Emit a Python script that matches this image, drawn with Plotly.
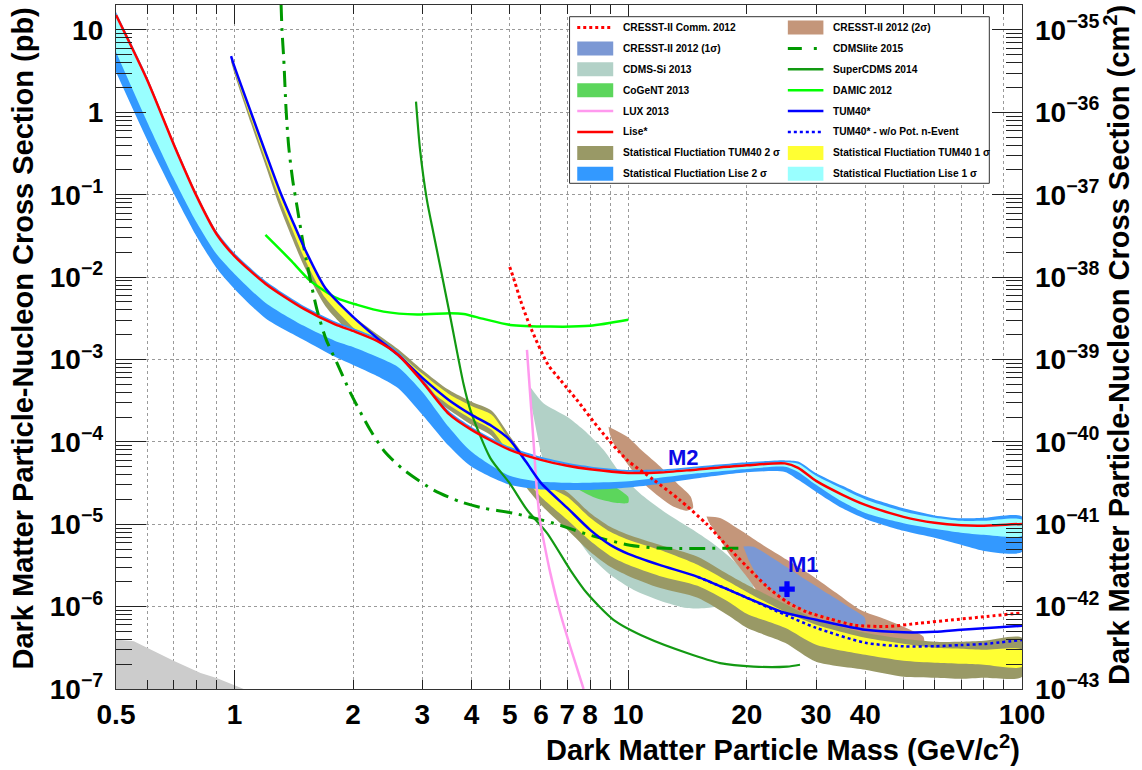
import numpy as np
import plotly.graph_objects as go

FONT = "Liberation Sans, Arial, Helvetica, sans-serif"

# ---------------- data: WIMP mass in GeV/c^2, cross section in pb ----------------
# Lise* limit and its statistical-fluctuation bands
lise_mass = [0.5, 0.6, 0.7, 0.8, 0.9, 1.0, 1.2, 1.5, 1.8, 2.0, 2.3, 2.6, 3.0, 3.5, 4.0, 5, 6, 7, 8,
             10, 12, 15, 20, 25, 27, 30, 35, 40, 50, 60, 70, 80, 100]
lise_limit = [15.2, 2.47, 0.414, 0.0975, 0.0334, 0.018, 0.00826, 0.00411, 0.00267, 0.00222, 0.00168,
              0.00114, 5.35e-4, 2.19e-4, 1.40e-4, 8.0e-5, 6.05e-5, 5.12e-5, 4.64e-5, 4.2e-5, 4.24e-5,
              4.63e-5, 5.19e-5, 5.48e-5, 4.83e-5, 3.36e-5, 2.28e-5, 1.72e-5, 1.23e-5, 1.04e-5, 9.7e-6,
              9.6e-6, 1.01e-5]
lise_2s_up = [16.5, 2.69, 0.45, 0.106, 0.0363, 0.0196, 0.00898, 0.00447, 0.0029, 0.00241, 0.00183,
              0.00124, 5.82e-4, 2.38e-4, 1.52e-4, 8.7e-5, 6.58e-5, 5.57e-5, 5.04e-5, 4.57e-5, 4.61e-5,
              5.03e-5, 5.64e-5, 5.96e-5, 5.77e-5, 4.17e-5, 2.93e-5, 2.18e-5, 1.56e-5, 1.28e-5, 1.18e-5,
              1.20e-5, 1.24e-5]
lise_1s_up = [15.6, 2.54, 0.426, 0.1004, 0.0344, 0.0186, 0.0085, 0.00423, 0.00275, 0.00229, 0.00173,
              0.00117, 5.51e-4, 2.26e-4, 1.44e-4, 8.24e-5, 6.23e-5, 5.27e-5, 4.78e-5, 4.33e-5, 4.37e-5,
              4.77e-5, 5.35e-5, 5.64e-5, 5.41e-5, 3.87e-5, 2.69e-5, 2.0e-5, 1.43e-5, 1.20e-5, 1.10e-5,
              1.10e-5, 1.13e-5]
lise_1s_low = [5.41, 0.765, 0.160, 0.0468, 0.0191, 0.01094, 0.00486, 0.00256, 0.00168, 0.00142, 0.00108,
               8.13e-4, 4.04e-4, 1.52e-4, 7.57e-5, 3.87e-5, 3.27e-5, 3.18e-5, 3.19e-5, 3.32e-5, 3.66e-5,
               4.15e-5, 4.70e-5, 4.98e-5, 4.32e-5, 3.01e-5, 1.87e-5, 1.37e-5, 1.03e-5, 8.79e-6, 7.87e-6,
               7.43e-6, 7.23e-6]
lise_2s_low = [3.09, 0.462, 0.105, 0.0316, 0.01294, 0.00719, 0.00315, 0.00173, 0.00108, 8.6e-4, 6.32e-4,
               4.52e-4, 2.13e-4, 8.94e-5, 4.98e-5, 3.01e-5, 2.65e-5, 2.61e-5, 2.61e-5, 2.80e-5, 3.09e-5,
               3.61e-5, 4.27e-5, 4.32e-5, 3.46e-5, 2.47e-5, 1.56e-5, 1.16e-5, 8.32e-6, 6.84e-6, 5.62e-6,
               4.75e-6, 4.62e-6]

# TUM40* limit and its statistical-fluctuation bands
tum_mass = [0.98, 1.0, 1.1, 1.2, 1.3, 1.4, 1.5, 1.7, 2.0, 2.3, 2.6, 3.0, 3.5, 4.0, 4.5, 5, 5.5, 6, 7, 8,
            9, 10, 12, 15, 18, 20, 25, 30, 40, 50, 60, 70, 80, 100]
tum_limit = [4.83, 3.56, 1.01, 0.3215, 0.1144, 0.0494, 0.02325, 0.00739, 0.00329, 0.00183, 0.001137,
             5.98e-4, 3.23e-4, 2.13e-4, 1.56e-4, 1.06e-4, 5.72e-5, 3.18e-5, 1.58e-5, 8.55e-6, 5.62e-6,
             4.37e-6, 3.21e-6, 2.30e-6, 1.60e-6, 1.28e-6, 8.41e-7, 6.92e-7, 5.23e-7, 4.88e-7, 4.94e-7,
             5.23e-7, 5.45e-7, 5.85e-7]
tum_2s_up = [4.83, 3.66, 1.04, 0.331, 0.1176, 0.0508, 0.0239, 0.0076, 0.00338, 0.002045, 0.001345,
             7.48e-4, 4.28e-4, 3.06e-4, 2.38e-4, 1.18e-4, 6.39e-5, 3.66e-5, 2.47e-5, 1.37e-5, 9.3e-6,
             7.43e-6, 5.62e-6, 4.02e-6, 2.43e-6, 1.84e-6, 1.08e-6, 6.92e-7, 4.81e-7, 4.06e-7, 3.74e-7,
             3.74e-7, 3.85e-7, 4.18e-7]
tum_1s_up = [4.7, 3.56, 0.983, 0.3127, 0.1112, 0.0481, 0.0226, 0.00719, 0.0032, 0.00188, 0.0012,
             6.69e-4, 3.82e-4, 2.73e-4, 2.13e-4, 1.03e-4, 5.56e-5, 3.18e-5, 2.15e-5, 1.20e-5, 8.09e-6,
             6.47e-6, 4.89e-6, 3.22e-6, 2.0e-6, 1.51e-6, 8.65e-7, 6.01e-7, 4.18e-7, 3.54e-7, 3.16e-7,
             3.08e-7, 2.99e-7, 2.99e-7]
tum_1s_low = [4.4, 3.18, 0.855, 0.264, 0.0915, 0.0385, 0.0176, 0.0056, 0.00245, 0.00138, 8.6e-4,
              4.92e-4, 2.81e-4, 1.90e-4, 1.40e-4, 6.95e-5, 3.56e-5, 2.15e-5, 1.13e-5, 6.29e-6, 4.13e-6,
              3.22e-6, 2.36e-6, 1.79e-6, 1.14e-6, 8.18e-7, 5.53e-7, 3.44e-7, 2.6e-7, 2.2e-7, 2.08e-7,
              2.02e-7, 1.97e-7, 1.86e-7]
tum_2s_low = [4.1, 2.92, 0.743, 0.224, 0.0731, 0.0299, 0.0137, 0.00447, 0.00195, 0.00117, 7.27e-4,
              4.28e-4, 2.45e-4, 1.61e-4, 1.18e-4, 5.72e-5, 2.84e-5, 1.72e-5, 8.55e-6, 4.62e-6, 3.04e-6,
              2.36e-6, 1.69e-6, 1.28e-6, 7.73e-7, 5.53e-7, 3.64e-7, 2.14e-7, 1.71e-7, 1.41e-7, 1.37e-7,
              1.33e-7, 1.37e-7, 1.41e-7]

# TUM40* without the potential neutron event
tum_won_mass = [15, 18, 20, 25, 30, 40, 50, 60, 70, 80, 100]
tum_won_limit = [2.30e-6, 1.60e-6, 1.28e-6, 7.96e-7, 5.53e-7, 3.64e-7, 3.30e-7, 3.31e-7, 3.42e-7,
                 3.52e-7, 3.94e-7]

# other experiments
cresst_comm_mass = [5.0, 5.16, 5.32, 5.64, 6.26, 6.72, 7.4, 8.48, 9.92, 11.6, 13.5, 15.8, 17.8, 20.0,
                    22.5, 25.3, 28.4, 32.5, 37.3, 45.3, 55.1, 66.9, 81.3, 100]
cresst_comm_limit = [0.0133, 0.0085, 0.00529, 0.00249, 8.6e-4, 5.65e-4, 3.24e-4, 1.40e-4, 6.05e-5,
                     3.46e-5, 1.98e-5, 1.01e-5, 5.47e-6, 3.06e-6, 1.75e-6, 1.14e-6, 8.63e-7, 7.1e-7,
                     6.0e-7, 5.73e-7, 6.3e-7, 6.92e-7, 7.59e-7, 8.4e-7]

cdmslite_mass = [1.313, 1.32, 1.334, 1.352, 1.373, 1.405, 1.442, 1.499, 1.558, 1.62, 1.71, 1.82, 1.97,
                 2.21, 2.42, 2.69, 3.2, 3.74, 4.29, 5.11, 6.46, 8.0, 10.1, 12.05, 19.2]
cdmslite_limit = [20.1, 10.0, 4.32, 1.07, 0.38, 0.151, 0.0712, 0.0233, 0.00925, 0.0040, 0.00173, 9.1e-4,
                  3.94e-4, 1.40e-4, 7.36e-5, 4.57e-5, 2.61e-5, 1.88e-5, 1.57e-5, 1.36e-5, 1.03e-5,
                  7.36e-6, 5.56e-6, 5.13e-6, 5.13e-6]

supercdms_mass = [2.89, 2.96, 3.08, 3.2, 3.33, 3.53, 3.82, 3.97, 4.46, 5.01, 5.53, 6.22, 7.12, 7.85,
                  9.17, 11.15, 14.1, 17.1, 20.8, 25.3, 27.3]
supercdms_limit = [1.35, 0.35, 0.0865, 0.0344, 0.0134, 0.00332, 4.92e-4, 2.45e-4, 6.4e-5, 3.09e-5,
                   1.50e-5, 7.8e-6, 2.8e-6, 1.46e-6, 6.92e-7, 4.18e-7, 2.73e-7, 2.06e-7, 1.87e-7,
                   1.87e-7, 1.97e-7]

damic_mass = [1.198, 1.386, 1.558, 1.821, 2.05, 2.39, 2.91, 3.53, 3.82, 4.29, 5.01, 6.34, 8.0, 10.0]
damic_limit = [0.0325, 0.0162, 0.009, 0.00555, 0.0046, 0.00381, 0.00352, 0.00365, 0.00357, 0.00311,
               0.00263, 0.00251, 0.00256, 0.00303]

lux_mass = [5.53, 5.64, 5.75, 5.86, 5.98, 6.09, 6.34, 6.72, 7.12, 7.7]
lux_limit = [1.31e-3, 3.55e-4, 9.64e-5, 2.61e-5, 1.03e-5, 6.46e-6, 2.55e-6, 8.3e-7, 3.28e-7, 1.0e-7]

# signal regions (closed contours)
cdmssi_mass = [5.64, 6.09, 6.98, 7.7, 8.65, 9.54, 10.7, 12.5, 14.6, 16.8, 19.2, 20.8, 20.4, 18.5, 15.8,
               14.1, 12.05, 10.3, 9.0, 8.0, 7.33, 6.72, 6.26, 5.98, 5.77, 5.64]
cdmssi_sigma = [4.65e-4, 2.95e-4, 2.03e-4, 1.40e-4, 8.0e-5, 4.17e-5, 2.38e-5, 1.36e-5, 8.55e-6, 5.36e-6,
                3.06e-6, 1.75e-6, 1.32e-6, 1.10e-6, 9.6e-7, 9.6e-7, 1.18e-6, 1.6e-6, 2.43e-6, 4.14e-6,
                7.45e-6, 1.50e-5, 3.46e-5, 8.0e-5, 1.85e-4, 3.24e-4]

cogent_mass = [6.26, 6.72, 7.33, 8.24, 9.27, 10.0, 10.0, 9.27, 8.24, 7.33, 6.72, 6.26]
cogent_sigma = [4.57e-5, 5.26e-5, 4.97e-5, 3.97e-5, 2.84e-5, 2.15e-5, 1.82e-5, 1.82e-5, 2.09e-5,
                2.77e-5, 3.36e-5, 4.09e-5]

cresst_2s_m2_mass = [8.91, 9.92, 10.9, 12.05, 13.3, 14.4, 14.6, 14.1, 13.0, 11.8, 10.7, 9.92, 9.17, 8.96]
cresst_2s_m2_sigma = [1.53e-4, 1.16e-4, 7.62e-5, 5.01e-5, 3.15e-5, 2.17e-5, 1.57e-5, 1.46e-5, 1.64e-5,
                      2.28e-5, 3.46e-5, 5.51e-5, 9.64e-5, 1.28e-4]
cresst_2s_m1_mass = [15.8, 17.1, 19.2, 21.6, 25.3, 29.5, 33.8, 38.8, 45.3, 52.0, 56.2, 56.2, 41.1, 33.8,
                     28.4, 25.3, 23.4, 21.6, 20.0, 18.1, 16.8, 16.0]
cresst_2s_m1_sigma = [1.24e-5, 1.19e-5, 8.55e-6, 5.9e-6, 3.7e-6, 2.32e-6, 1.46e-6, 9.15e-7, 6.92e-7,
                      5.23e-7, 4.3e-7, 3.54e-7, 3.44e-7, 3.96e-7, 5.23e-7, 6.92e-7, 9.15e-7, 1.39e-6,
                      2.3e-6, 4.25e-6, 7.43e-6, 1.07e-5]
cresst_1s_mass = [19.6, 20.8, 23.4, 27.3, 32.5, 36.6, 39.9, 39.9, 36.6, 32.5, 27.3, 24.3, 21.6, 20.2]
cresst_1s_sigma = [5.36e-6, 5.32e-6, 3.8e-6, 2.36e-6, 1.39e-6, 9.67e-7, 7.3e-7, 6.0e-7, 6.35e-7, 7.3e-7,
                   9.67e-7, 1.35e-6, 2.11e-6, 3.7e-6]

# excluded area in the lower-left corner
excl_mass = [0.5, 0.555, 0.7, 0.82, 0.9, 1.055, 0.5]
excl_sigma = [4.0e-7, 3.8e-7, 2.2e-7, 1.56e-7, 1.36e-7, 1.0e-7, 1.0e-7]

# CRESST-II best-fit point M1 and the label positions
m1_mass, m1_sigma = 25.3, 1.63e-6
m1_label_mass, m1_label_sigma = 27.8, 3.21e-6
m2_label_mass, m2_label_sigma = 13.8, 6.4e-5

# axis ticks
x_ticks = [0.5, 1, 2, 3, 4, 5, 6, 7, 8, 10, 20, 30, 40, 100]
x_ticklabels = ["0.5", "1", "2", "3", "4", "5", "6", "7", "8", "10", "20", "30", "40", "100"]
x_minor = [0.6, 0.7, 0.8, 0.9, 9, 50, 60, 70, 80, 90]
x_decades = [1, 10, 100]
y_exponents = [-7, -6, -5, -4, -3, -2, -1, 0, 1]
y2_exponents = [-43, -42, -41, -40, -39, -38, -37, -36, -35]

# ---------------- colours ----------------
C_RED = "#ff0000"
C_BLUE = "#0000ff"
C_LISE1 = "#99ffff"
C_LISE2 = "#3399ff"
C_TUM1 = "#ffff33"
C_TUM2 = "#999966"
C_CDMSSI = "#b2d1c7"
C_COGENT = "#5cd65c"
C_CRESST2 = "#c4967a"
C_CRESST1 = "#7b98d4"
C_CDMSLITE = "#009900"
C_SUPERCDMS = "#129912"
C_DAMIC = "#00ff00"
C_LUX = "#ff99ee"
C_EXCL = "#cccccc"
GRID = "#9a9a9a"

DOT = "3px,3px"
DASHDOT = "16px,7px,3px,7px"

# ---------------- figure ----------------
W, H = 1142, 770
FR_L, FR_R, FR_T, FR_B = 115.5, 1022.0, 5.0, 689.0


def xp(px):
    return (px - FR_L) / (FR_R - FR_L)


def yp(py):
    return (FR_B - py) / (FR_B - FR_T)


fig = go.Figure()


def add_region(x, y, color, shape="spline"):
    fig.add_trace(go.Scatter(x=x, y=y, mode="lines", fill="toself", fillcolor=color,
                             line=dict(width=0, color=color, shape=shape, smoothing=0.7),
                             hoverinfo="skip", showlegend=False))


def add_band(x, hi, lo, color):
    add_region(list(x) + list(x)[::-1], list(hi) + list(lo)[::-1], color)


def add_curve(x, y, color, width, dash="solid"):
    fig.add_trace(go.Scatter(x=x, y=y, mode="lines",
                             line=dict(color=color, width=width, dash=dash, shape="spline",
                                       smoothing=0.7),
                             hoverinfo="skip", showlegend=False))


add_region(excl_mass, excl_sigma, C_EXCL, shape="linear")
add_region(cdmssi_mass, cdmssi_sigma, C_CDMSSI)
add_region(cresst_2s_m2_mass, cresst_2s_m2_sigma, C_CRESST2)
add_region(cresst_2s_m1_mass, cresst_2s_m1_sigma, C_CRESST2)
add_region(cresst_1s_mass, cresst_1s_sigma, C_CRESST1)
add_region(cogent_mass, cogent_sigma, C_COGENT)
add_band(tum_mass, tum_2s_up, tum_2s_low, C_TUM2)
add_band(tum_mass, tum_1s_up, tum_1s_low, C_TUM1)
add_band(lise_mass, lise_2s_up, lise_2s_low, C_LISE2)
add_band(lise_mass, lise_1s_up, lise_1s_low, C_LISE1)

add_curve(damic_mass, damic_limit, C_DAMIC, 2.5)
add_curve(supercdms_mass, supercdms_limit, C_SUPERCDMS, 2.2)
add_curve(cdmslite_mass, cdmslite_limit, C_CDMSLITE, 3, DASHDOT)
add_curve(lux_mass, lux_limit, C_LUX, 2.5)
add_curve(cresst_comm_mass, cresst_comm_limit, C_RED, 3, DOT)
add_curve(tum_won_mass, tum_won_limit, C_BLUE, 2.5, DOT)
add_curve(tum_mass, tum_limit, C_BLUE, 2.5)
add_curve(lise_mass, lise_limit, C_RED, 2.5)

fig.add_trace(go.Scatter(x=[m1_mass], y=[m1_sigma], mode="markers",
                         marker=dict(symbol="cross", size=13, color=C_BLUE, line=dict(width=0)),
                         hoverinfo="skip", showlegend=False))

# empty traces that attach the decade-tick axis and the cm^2 axis
fig.add_trace(go.Scatter(x=[], y=[], xaxis="x2", yaxis="y", showlegend=False, hoverinfo="skip"))
fig.add_trace(go.Scatter(x=[], y=[], xaxis="x", yaxis="y2", showlegend=False, hoverinfo="skip"))


def pow_label(e):
    if e == 0:
        return "1"
    if e == 1:
        return "10"
    return "10<sup>%s</sup>" % str(e).replace("-", "\u2212")


y_ticks = [10.0 ** e for e in y_exponents]
y_ticklabels = [pow_label(e) for e in y_exponents]
y_minor = [m * 10.0 ** e for e in y_exponents[:-1] for m in range(2, 10)]
y2_ticks = [10.0 ** e for e in y2_exponents]
y2_ticklabels = [pow_label(e) for e in y2_exponents]

x_range = [np.log10(0.5), 2.0]
y_top = np.log10(20.1)
y_range = [-7.0, y_top]
y2_range = [-43.0, y_top - 36.0]

tick_font = dict(family=FONT, size=28, color="black", weight="bold")
frame = dict(showline=True, linecolor="#333333", linewidth=1.3, zeroline=False)

fig.update_layout(
    width=W, height=H,
    margin=dict(l=FR_L, r=W - FR_R, t=FR_T, b=H - FR_B, autoexpand=False),
    paper_bgcolor="white", plot_bgcolor="white", showlegend=False,
    font=dict(family=FONT, color="black"),
    xaxis=dict(type="log", range=x_range, tickmode="array", tickvals=x_ticks, ticktext=x_ticklabels,
               ticks="inside", ticklen=9, tickwidth=1, tickcolor="#222222", mirror="ticks",
               showgrid=True, gridcolor=GRID, griddash="dot", gridwidth=1,
               tickfont=tick_font, ticklabelstandoff=0,
               minor=dict(tickmode="array", tickvals=x_minor, ticks="inside", ticklen=9,
                          tickcolor="#222222", showgrid=True, gridcolor=GRID, griddash="dot",
                          gridwidth=1),
               **frame),
    xaxis2=dict(type="log", range=x_range, overlaying="x", anchor="y", side="bottom",
                tickmode="array", tickvals=x_decades, ticks="inside", ticklen=19, tickwidth=1,
                tickcolor="#222222", showticklabels=False, showgrid=False, mirror="ticks",
                showline=False, zeroline=False),
    yaxis=dict(type="log", range=y_range, tickmode="array", tickvals=y_ticks, ticktext=y_ticklabels,
               ticks="inside", ticklen=30, tickwidth=1, tickcolor="#222222", mirror="ticks",
               showgrid=True, gridcolor=GRID, griddash="dot", gridwidth=1,
               tickfont=tick_font, ticklabelstandoff=6,
               minor=dict(tickmode="array", tickvals=y_minor, ticks="inside", ticklen=16,
                          tickcolor="#222222", showgrid=False),
               **frame),
    yaxis2=dict(type="log", range=y2_range, overlaying="y", anchor="x", side="right",
                tickmode="array", tickvals=y2_ticks, ticktext=y2_ticklabels, ticks="",
                showgrid=False, showline=False, zeroline=False, tickfont=tick_font,
                ticklabelstandoff=12),
)

annotations = []
shapes = []

# axis titles
title_font = dict(family=FONT, size=29, color="black", weight="bold")
annotations.append(dict(text="Dark Matter Particle Mass (GeV/c<sup>2</sup>)", xref="paper", yref="paper",
                        x=1.0, y=yp(748), xanchor="right", yanchor="middle", showarrow=False,
                        font=title_font))
annotations.append(dict(text="Dark Matter Particle-Nucleon Cross Section (pb)", xref="paper",
                        yref="paper", x=xp(22), y=yp(6), xanchor="center", yanchor="top",
                        textangle=-90, showarrow=False, font=title_font))
annotations.append(dict(text="Dark Matter Particle-Nucleon Cross Section (cm<sup>2</sup>)",
                        xref="paper", yref="paper", x=xp(1117), y=yp(3), xanchor="center",
                        yanchor="top", textangle=-90, showarrow=False, font=title_font))

# M1 / M2 labels
m_font = dict(family=FONT, size=22, color="#0a0ae6", weight="bold")
annotations.append(dict(text="M2", x=np.log10(m2_label_mass), y=np.log10(m2_label_sigma), xref="x",
                        yref="y", showarrow=False, font=m_font))
annotations.append(dict(text="M1", x=np.log10(m1_label_mass), y=np.log10(m1_label_sigma), xref="x",
                        yref="y", showarrow=False, font=m_font))

# legend box
shapes.append(dict(type="rect", xref="paper", yref="paper", x0=xp(569.3), x1=xp(989.3),
                   y0=yp(183.3), y1=yp(16.7), line=dict(color="#333333", width=1),
                   fillcolor="white", layer="above"))

legend_left = [
    ("CRESST-II Comm. 2012", "line", dict(color=C_RED, width=3, dash=DOT)),
    ("CRESST-II 2012 (1\u03c3)", "box", C_CRESST1),
    ("CDMS-Si 2013", "box", C_CDMSSI),
    ("CoGeNT 2013", "box", C_COGENT),
    ("LUX 2013", "line", dict(color=C_LUX, width=2.5)),
    ("Lise*", "line", dict(color=C_RED, width=2.5)),
    ("Statistical Fluctiation TUM40 2 \u03c3", "box", C_TUM2),
    ("Statistical Fluctiation Lise 2 \u03c3", "box", C_LISE2),
]
legend_right = [
    ("CRESST-II 2012 (2\u03c3)", "box", C_CRESST2),
    ("CDMSlite 2015", "line", dict(color=C_CDMSLITE, width=3, dash="14px,12px,3px,8px")),
    ("SuperCDMS 2014", "line", dict(color=C_SUPERCDMS, width=2.5)),
    ("DAMIC 2012", "line", dict(color=C_DAMIC, width=2.5)),
    ("TUM40*", "line", dict(color=C_BLUE, width=2.5)),
    ("TUM40* - w/o Pot. n-Event", "line", dict(color=C_BLUE, width=2.5, dash=DOT)),
    ("Statistical Fluctiation TUM40 1 \u03c3", "box", C_TUM1),
    ("Statistical Fluctiation Lise 1 \u03c3", "box", C_LISE1),
]

leg_font = dict(family=FONT, size=10.2, color="black", weight="bold")
for col, (sx0, sx1, tx) in zip([legend_left, legend_right],
                               [(577.0, 613.0, 620.5), (787.7, 823.3, 831.0)]):
    for i, (label, kind, style) in enumerate(col):
        ry = 27.5 + 20.9 * i
        if kind == "box":
            shapes.append(dict(type="rect", xref="paper", yref="paper", x0=xp(sx0), x1=xp(sx1),
                               y0=yp(ry + 7), y1=yp(ry - 7), line=dict(width=0), fillcolor=style,
                               layer="above"))
        else:
            shapes.append(dict(type="line", xref="paper", yref="paper", x0=xp(sx0), x1=xp(sx1),
                               y0=yp(ry), y1=yp(ry), line=style, layer="above"))
        annotations.append(dict(text=label, xref="paper", yref="paper", x=xp(tx), y=yp(ry),
                                xanchor="left", yanchor="middle", showarrow=False, font=leg_font))

fig.update_layout(annotations=annotations, shapes=shapes)

fig.write_html("out.html")
